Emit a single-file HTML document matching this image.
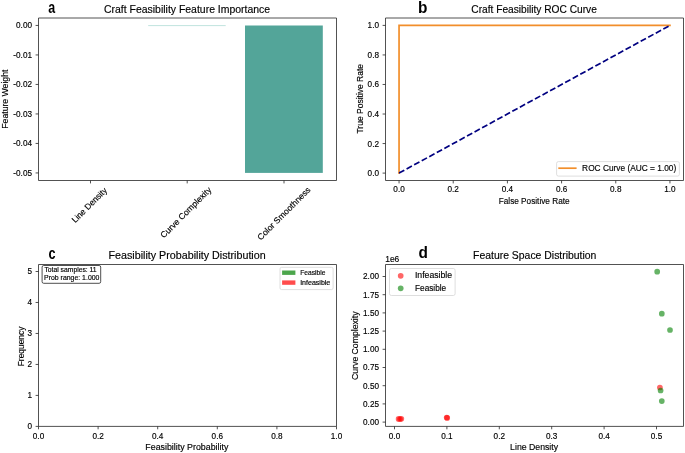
<!DOCTYPE html>
<html><head><meta charset="utf-8"><title>Craft Feasibility</title>
<style>html,body{margin:0;padding:0;background:#fff;}svg{display:block;will-change:transform;}text{font-family:"Liberation Sans",sans-serif;stroke:#000;stroke-width:0.15px;}</style>
</head><body>
<svg width="685" height="453" viewBox="0 0 685 453" font-family="Liberation Sans">
<rect x="0" y="0" width="685" height="453" fill="#fff"/>
<rect x="245.0" y="25.5" width="77.8" height="147.4" fill="#53a599"/>
<line x1="148.2" y1="25.6" x2="225.7" y2="25.6" stroke="#b9e0da" stroke-width="0.9"/>
<line x1="35.60" y1="25.45" x2="38.50" y2="25.45" stroke="#262626" stroke-width="0.8"/><text x="32.00" y="28.40" font-size="8.2" font-weight="400" text-anchor="end" fill="#000">0.00</text>
<line x1="35.60" y1="54.95" x2="38.50" y2="54.95" stroke="#262626" stroke-width="0.8"/><text x="32.00" y="57.90" font-size="8.2" font-weight="400" text-anchor="end" fill="#000">-0.01</text>
<line x1="35.60" y1="84.45" x2="38.50" y2="84.45" stroke="#262626" stroke-width="0.8"/><text x="32.00" y="87.40" font-size="8.2" font-weight="400" text-anchor="end" fill="#000">-0.02</text>
<line x1="35.60" y1="113.95" x2="38.50" y2="113.95" stroke="#262626" stroke-width="0.8"/><text x="32.00" y="116.90" font-size="8.2" font-weight="400" text-anchor="end" fill="#000">-0.03</text>
<line x1="35.60" y1="143.45" x2="38.50" y2="143.45" stroke="#262626" stroke-width="0.8"/><text x="32.00" y="146.40" font-size="8.2" font-weight="400" text-anchor="end" fill="#000">-0.04</text>
<line x1="35.60" y1="172.95" x2="38.50" y2="172.95" stroke="#262626" stroke-width="0.8"/><text x="32.00" y="175.90" font-size="8.2" font-weight="400" text-anchor="end" fill="#000">-0.05</text>
<line x1="90.50" y1="180.50" x2="90.50" y2="183.40" stroke="#262626" stroke-width="0.8"/>
<line x1="187.20" y1="180.50" x2="187.20" y2="183.40" stroke="#262626" stroke-width="0.8"/>
<line x1="284.00" y1="180.50" x2="284.00" y2="183.40" stroke="#262626" stroke-width="0.8"/>
<text transform="translate(90.10,205.40) rotate(-45) translate(-23.16,2.21)" x="0" y="0" font-size="8.5" font-weight="400" textLength="45.69" lengthAdjust="spacingAndGlyphs" fill="#000">Line Density</text>
<text transform="translate(186.50,212.80) rotate(-45) translate(-34.23,2.21)" x="0" y="0" font-size="8.5" font-weight="400" textLength="68.04" lengthAdjust="spacingAndGlyphs" fill="#000">Curve Complexity</text>
<text transform="translate(283.80,213.40) rotate(-45) translate(-35.68,3.06)" x="0" y="0" font-size="8.5" font-weight="400" textLength="71.25" lengthAdjust="spacingAndGlyphs" fill="#000">Color Smoothness</text>
<text transform="translate(7.80,128.69) rotate(-90)" x="0" y="0" font-size="8.3" font-weight="400" textLength="59.07" lengthAdjust="spacingAndGlyphs" fill="#000">Feature Weight</text>
<text x="103.98" y="12.70" font-size="10.5" font-weight="400" textLength="166.19" lengthAdjust="spacingAndGlyphs" fill="#000">Craft Feasibility Feature Importance</text>
<text x="48.33" y="12.80" style="stroke:none" font-size="16" font-weight="700" textLength="6.93" lengthAdjust="spacingAndGlyphs" fill="#000">a</text>
<line x1="38.5" y1="18.0" x2="336.5" y2="18.0" stroke="#262626" stroke-width="0.8"/><line x1="38.5" y1="180.5" x2="336.5" y2="180.5" stroke="#262626" stroke-width="0.8"/><line x1="38.5" y1="18.0" x2="38.5" y2="180.5" stroke="#262626" stroke-width="0.8"/><line x1="336.5" y1="18.0" x2="336.5" y2="180.5" stroke="#262626" stroke-width="0.8"/>
<polyline points="399.05,173.10 399.05,25.40 669.95,25.40" fill="none" stroke="#f28e2b" stroke-width="1.7" stroke-linejoin="miter" stroke-linecap="square"/>
<line x1="399.05" y1="173.10" x2="669.95" y2="25.40" stroke="#000080" stroke-width="1.7" stroke-dasharray="6.0,2.6"/>
<line x1="382.60" y1="173.10" x2="385.50" y2="173.10" stroke="#262626" stroke-width="0.8"/><text x="379.00" y="176.05" font-size="8.2" font-weight="400" text-anchor="end" fill="#000">0.0</text>
<line x1="399.05" y1="180.50" x2="399.05" y2="183.40" stroke="#262626" stroke-width="0.8"/><text x="399.05" y="192.00" font-size="8.2" font-weight="400" text-anchor="middle" fill="#000">0.0</text>
<line x1="382.60" y1="143.56" x2="385.50" y2="143.56" stroke="#262626" stroke-width="0.8"/><text x="379.00" y="146.51" font-size="8.2" font-weight="400" text-anchor="end" fill="#000">0.2</text>
<line x1="453.23" y1="180.50" x2="453.23" y2="183.40" stroke="#262626" stroke-width="0.8"/><text x="453.23" y="192.00" font-size="8.2" font-weight="400" text-anchor="middle" fill="#000">0.2</text>
<line x1="382.60" y1="114.02" x2="385.50" y2="114.02" stroke="#262626" stroke-width="0.8"/><text x="379.00" y="116.97" font-size="8.2" font-weight="400" text-anchor="end" fill="#000">0.4</text>
<line x1="507.41" y1="180.50" x2="507.41" y2="183.40" stroke="#262626" stroke-width="0.8"/><text x="507.41" y="192.00" font-size="8.2" font-weight="400" text-anchor="middle" fill="#000">0.4</text>
<line x1="382.60" y1="84.48" x2="385.50" y2="84.48" stroke="#262626" stroke-width="0.8"/><text x="379.00" y="87.43" font-size="8.2" font-weight="400" text-anchor="end" fill="#000">0.6</text>
<line x1="561.59" y1="180.50" x2="561.59" y2="183.40" stroke="#262626" stroke-width="0.8"/><text x="561.59" y="192.00" font-size="8.2" font-weight="400" text-anchor="middle" fill="#000">0.6</text>
<line x1="382.60" y1="54.94" x2="385.50" y2="54.94" stroke="#262626" stroke-width="0.8"/><text x="379.00" y="57.89" font-size="8.2" font-weight="400" text-anchor="end" fill="#000">0.8</text>
<line x1="615.77" y1="180.50" x2="615.77" y2="183.40" stroke="#262626" stroke-width="0.8"/><text x="615.77" y="192.00" font-size="8.2" font-weight="400" text-anchor="middle" fill="#000">0.8</text>
<line x1="382.60" y1="25.40" x2="385.50" y2="25.40" stroke="#262626" stroke-width="0.8"/><text x="379.00" y="28.35" font-size="8.2" font-weight="400" text-anchor="end" fill="#000">1.0</text>
<line x1="669.95" y1="180.50" x2="669.95" y2="183.40" stroke="#262626" stroke-width="0.8"/><text x="669.95" y="192.00" font-size="8.2" font-weight="400" text-anchor="middle" fill="#000">1.0</text>
<text transform="translate(363.40,133.57) rotate(-90)" x="0" y="0" font-size="8.3" font-weight="400" textLength="69.68" lengthAdjust="spacingAndGlyphs" fill="#000">True Positive Rate</text>
<text x="498.74" y="203.90" font-size="8.3" font-weight="400" textLength="70.83" lengthAdjust="spacingAndGlyphs" fill="#000">False Positive Rate</text>
<text x="471.29" y="12.70" font-size="10.5" font-weight="400" textLength="125.58" lengthAdjust="spacingAndGlyphs" fill="#000">Craft Feasibility ROC Curve</text>
<text x="418.12" y="12.80" style="stroke:none" font-size="16" font-weight="700" textLength="9.41" lengthAdjust="spacingAndGlyphs" fill="#000">b</text>
<rect x="556.6" y="161.6" width="122.8" height="14.5" rx="1.8" fill="#fff" fill-opacity="0.8" stroke="#d6d6d6" stroke-width="0.8"/>
<line x1="558.3" y1="168.2" x2="576.6" y2="168.2" stroke="#f28e2b" stroke-width="1.7"/>
<text x="582.13" y="171.20" font-size="8.3" font-weight="400" textLength="94.15" lengthAdjust="spacingAndGlyphs" fill="#000">ROC Curve (AUC = 1.00)</text>
<line x1="385.5" y1="18.0" x2="683.5" y2="18.0" stroke="#262626" stroke-width="0.8"/><line x1="385.5" y1="180.5" x2="683.5" y2="180.5" stroke="#262626" stroke-width="0.8"/><line x1="385.5" y1="18.0" x2="385.5" y2="180.5" stroke="#262626" stroke-width="0.8"/><line x1="683.5" y1="18.0" x2="683.5" y2="180.5" stroke="#262626" stroke-width="0.8"/>
<line x1="35.60" y1="426.40" x2="38.50" y2="426.40" stroke="#262626" stroke-width="0.8"/><text x="32.00" y="429.35" font-size="8.2" font-weight="400" text-anchor="end" fill="#000">0</text>
<line x1="35.60" y1="395.42" x2="38.50" y2="395.42" stroke="#262626" stroke-width="0.8"/><text x="32.00" y="398.37" font-size="8.2" font-weight="400" text-anchor="end" fill="#000">1</text>
<line x1="35.60" y1="364.44" x2="38.50" y2="364.44" stroke="#262626" stroke-width="0.8"/><text x="32.00" y="367.39" font-size="8.2" font-weight="400" text-anchor="end" fill="#000">2</text>
<line x1="35.60" y1="333.46" x2="38.50" y2="333.46" stroke="#262626" stroke-width="0.8"/><text x="32.00" y="336.41" font-size="8.2" font-weight="400" text-anchor="end" fill="#000">3</text>
<line x1="35.60" y1="302.48" x2="38.50" y2="302.48" stroke="#262626" stroke-width="0.8"/><text x="32.00" y="305.43" font-size="8.2" font-weight="400" text-anchor="end" fill="#000">4</text>
<line x1="35.60" y1="271.50" x2="38.50" y2="271.50" stroke="#262626" stroke-width="0.8"/><text x="32.00" y="274.45" font-size="8.2" font-weight="400" text-anchor="end" fill="#000">5</text>
<line x1="38.50" y1="426.40" x2="38.50" y2="429.30" stroke="#262626" stroke-width="0.8"/><text x="38.50" y="438.90" font-size="8.2" font-weight="400" text-anchor="middle" fill="#000">0.0</text>
<line x1="98.10" y1="426.40" x2="98.10" y2="429.30" stroke="#262626" stroke-width="0.8"/><text x="98.10" y="438.90" font-size="8.2" font-weight="400" text-anchor="middle" fill="#000">0.2</text>
<line x1="157.70" y1="426.40" x2="157.70" y2="429.30" stroke="#262626" stroke-width="0.8"/><text x="157.70" y="438.90" font-size="8.2" font-weight="400" text-anchor="middle" fill="#000">0.4</text>
<line x1="217.30" y1="426.40" x2="217.30" y2="429.30" stroke="#262626" stroke-width="0.8"/><text x="217.30" y="438.90" font-size="8.2" font-weight="400" text-anchor="middle" fill="#000">0.6</text>
<line x1="276.90" y1="426.40" x2="276.90" y2="429.30" stroke="#262626" stroke-width="0.8"/><text x="276.90" y="438.90" font-size="8.2" font-weight="400" text-anchor="middle" fill="#000">0.8</text>
<line x1="336.50" y1="426.40" x2="336.50" y2="429.30" stroke="#262626" stroke-width="0.8"/><text x="336.50" y="438.90" font-size="8.2" font-weight="400" text-anchor="middle" fill="#000">1.0</text>
<text transform="translate(23.50,366.27) rotate(-90)" x="0" y="0" font-size="8.3" font-weight="400" textLength="39.71" lengthAdjust="spacingAndGlyphs" fill="#000">Frequency</text>
<text x="145.39" y="449.90" font-size="8.3" font-weight="400" textLength="82.93" lengthAdjust="spacingAndGlyphs" fill="#000">Feasibility Probability</text>
<text x="108.54" y="259.10" font-size="10.5" font-weight="400" textLength="157.13" lengthAdjust="spacingAndGlyphs" fill="#000">Feasibility Probability Distribution</text>
<text x="48.59" y="258.70" style="stroke:none" font-size="16" font-weight="700" textLength="7.04" lengthAdjust="spacingAndGlyphs" fill="#000">c</text>
<rect x="42.1" y="265.5" width="58.6" height="17.8" rx="1.6" fill="#fff" stroke="#222" stroke-width="0.8"/>
<text x="44.46" y="272.40" font-size="6.3" font-weight="400" textLength="52.16" lengthAdjust="spacingAndGlyphs" fill="#000">Total samples: 11</text>
<text x="44.05" y="279.80" font-size="6.3" font-weight="400" textLength="55.40" lengthAdjust="spacingAndGlyphs" fill="#000">Prob range: 1.000</text>
<rect x="280.0" y="267.3" width="53.1" height="22.3" rx="1.6" fill="#fff" fill-opacity="0.8" stroke="#d6d6d6" stroke-width="0.8"/>
<rect x="282.1" y="270.5" width="13.3" height="4.4" fill="#008000" fill-opacity="0.7"/>
<rect x="282.1" y="280.4" width="13.3" height="4.4" fill="#ff0000" fill-opacity="0.7"/>
<text x="300.27" y="274.80" font-size="6.6" font-weight="400" textLength="25.16" lengthAdjust="spacingAndGlyphs" fill="#000">Feasible</text>
<text x="300.17" y="284.80" font-size="6.6" font-weight="400" textLength="30.12" lengthAdjust="spacingAndGlyphs" fill="#000">Infeasible</text>
<line x1="38.5" y1="264.5" x2="336.5" y2="264.5" stroke="#262626" stroke-width="0.8"/><line x1="38.5" y1="426.4" x2="336.5" y2="426.4" stroke="#262626" stroke-width="0.8"/><line x1="38.5" y1="264.5" x2="38.5" y2="426.4" stroke="#262626" stroke-width="0.8"/><line x1="336.5" y1="264.5" x2="336.5" y2="426.4" stroke="#262626" stroke-width="0.8"/>
<line x1="382.60" y1="422.10" x2="385.50" y2="422.10" stroke="#262626" stroke-width="0.8"/><text x="379.00" y="425.05" font-size="8.2" font-weight="400" text-anchor="end" fill="#000">0.00</text>
<line x1="382.60" y1="403.90" x2="385.50" y2="403.90" stroke="#262626" stroke-width="0.8"/><text x="379.00" y="406.85" font-size="8.2" font-weight="400" text-anchor="end" fill="#000">0.25</text>
<line x1="382.60" y1="385.70" x2="385.50" y2="385.70" stroke="#262626" stroke-width="0.8"/><text x="379.00" y="388.65" font-size="8.2" font-weight="400" text-anchor="end" fill="#000">0.50</text>
<line x1="382.60" y1="367.50" x2="385.50" y2="367.50" stroke="#262626" stroke-width="0.8"/><text x="379.00" y="370.45" font-size="8.2" font-weight="400" text-anchor="end" fill="#000">0.75</text>
<line x1="382.60" y1="349.30" x2="385.50" y2="349.30" stroke="#262626" stroke-width="0.8"/><text x="379.00" y="352.25" font-size="8.2" font-weight="400" text-anchor="end" fill="#000">1.00</text>
<line x1="382.60" y1="331.10" x2="385.50" y2="331.10" stroke="#262626" stroke-width="0.8"/><text x="379.00" y="334.05" font-size="8.2" font-weight="400" text-anchor="end" fill="#000">1.25</text>
<line x1="382.60" y1="312.90" x2="385.50" y2="312.90" stroke="#262626" stroke-width="0.8"/><text x="379.00" y="315.85" font-size="8.2" font-weight="400" text-anchor="end" fill="#000">1.50</text>
<line x1="382.60" y1="294.70" x2="385.50" y2="294.70" stroke="#262626" stroke-width="0.8"/><text x="379.00" y="297.65" font-size="8.2" font-weight="400" text-anchor="end" fill="#000">1.75</text>
<line x1="382.60" y1="276.50" x2="385.50" y2="276.50" stroke="#262626" stroke-width="0.8"/><text x="379.00" y="279.45" font-size="8.2" font-weight="400" text-anchor="end" fill="#000">2.00</text>
<line x1="394.50" y1="426.40" x2="394.50" y2="429.30" stroke="#262626" stroke-width="0.8"/><text x="394.50" y="438.80" font-size="8.2" font-weight="400" text-anchor="middle" fill="#000">0.0</text>
<line x1="446.90" y1="426.40" x2="446.90" y2="429.30" stroke="#262626" stroke-width="0.8"/><text x="446.90" y="438.80" font-size="8.2" font-weight="400" text-anchor="middle" fill="#000">0.1</text>
<line x1="499.30" y1="426.40" x2="499.30" y2="429.30" stroke="#262626" stroke-width="0.8"/><text x="499.30" y="438.80" font-size="8.2" font-weight="400" text-anchor="middle" fill="#000">0.2</text>
<line x1="551.70" y1="426.40" x2="551.70" y2="429.30" stroke="#262626" stroke-width="0.8"/><text x="551.70" y="438.80" font-size="8.2" font-weight="400" text-anchor="middle" fill="#000">0.3</text>
<line x1="604.10" y1="426.40" x2="604.10" y2="429.30" stroke="#262626" stroke-width="0.8"/><text x="604.10" y="438.80" font-size="8.2" font-weight="400" text-anchor="middle" fill="#000">0.4</text>
<line x1="656.50" y1="426.40" x2="656.50" y2="429.30" stroke="#262626" stroke-width="0.8"/><text x="656.50" y="438.80" font-size="8.2" font-weight="400" text-anchor="middle" fill="#000">0.5</text>
<text x="385.22" y="261.80" font-size="8.2" font-weight="400" textLength="14.09" lengthAdjust="spacingAndGlyphs" fill="#000">1e6</text>
<text transform="translate(358.30,379.93) rotate(-90)" x="0" y="0" font-size="8.3" font-weight="400" textLength="68.44" lengthAdjust="spacingAndGlyphs" fill="#000">Curve Complexity</text>
<text x="510.10" y="450.00" font-size="8.3" font-weight="400" textLength="48.02" lengthAdjust="spacingAndGlyphs" fill="#000">Line Density</text>
<text x="473.07" y="258.90" font-size="10.5" font-weight="400" textLength="123.36" lengthAdjust="spacingAndGlyphs" fill="#000">Feature Space Distribution</text>
<text x="418.38" y="258.40" style="stroke:none" font-size="16" font-weight="700" textLength="9.41" lengthAdjust="spacingAndGlyphs" fill="#000">d</text>
<circle cx="398.6" cy="418.9" r="2.85" fill="#ff0000" fill-opacity="0.6"/>
<circle cx="400.0" cy="419.0" r="2.85" fill="#ff0000" fill-opacity="0.6"/>
<circle cx="401.3" cy="418.8" r="2.85" fill="#ff0000" fill-opacity="0.6"/>
<circle cx="446.7" cy="417.5" r="2.85" fill="#ff0000" fill-opacity="0.6"/>
<circle cx="447.2" cy="417.9" r="2.85" fill="#ff0000" fill-opacity="0.6"/>
<circle cx="659.9" cy="387.5" r="2.85" fill="#ff0000" fill-opacity="0.6"/>
<circle cx="657.2" cy="271.7" r="2.85" fill="#008000" fill-opacity="0.6"/>
<circle cx="661.8" cy="313.7" r="2.85" fill="#008000" fill-opacity="0.6"/>
<circle cx="670.0" cy="330.0" r="2.85" fill="#008000" fill-opacity="0.6"/>
<circle cx="660.6" cy="390.5" r="2.85" fill="#008000" fill-opacity="0.6"/>
<circle cx="661.8" cy="401.1" r="2.85" fill="#008000" fill-opacity="0.6"/>
<rect x="389.5" y="268.5" width="65.6" height="27.0" rx="1.8" fill="#fff" fill-opacity="0.8" stroke="#d6d6d6" stroke-width="0.8"/>
<circle cx="400.7" cy="275.8" r="2.85" fill="#ff0000" fill-opacity="0.6"/>
<circle cx="400.7" cy="288.3" r="2.85" fill="#008000" fill-opacity="0.6"/>
<text x="414.92" y="278.30" font-size="8.3" font-weight="400" textLength="37.24" lengthAdjust="spacingAndGlyphs" fill="#000">Infeasible</text>
<text x="415.04" y="290.70" font-size="8.3" font-weight="400" textLength="31.17" lengthAdjust="spacingAndGlyphs" fill="#000">Feasible</text>
<line x1="385.5" y1="264.5" x2="683.5" y2="264.5" stroke="#262626" stroke-width="0.8"/><line x1="385.5" y1="426.4" x2="683.5" y2="426.4" stroke="#262626" stroke-width="0.8"/><line x1="385.5" y1="264.5" x2="385.5" y2="426.4" stroke="#262626" stroke-width="0.8"/><line x1="683.5" y1="264.5" x2="683.5" y2="426.4" stroke="#262626" stroke-width="0.8"/>
</svg>
</body></html>
